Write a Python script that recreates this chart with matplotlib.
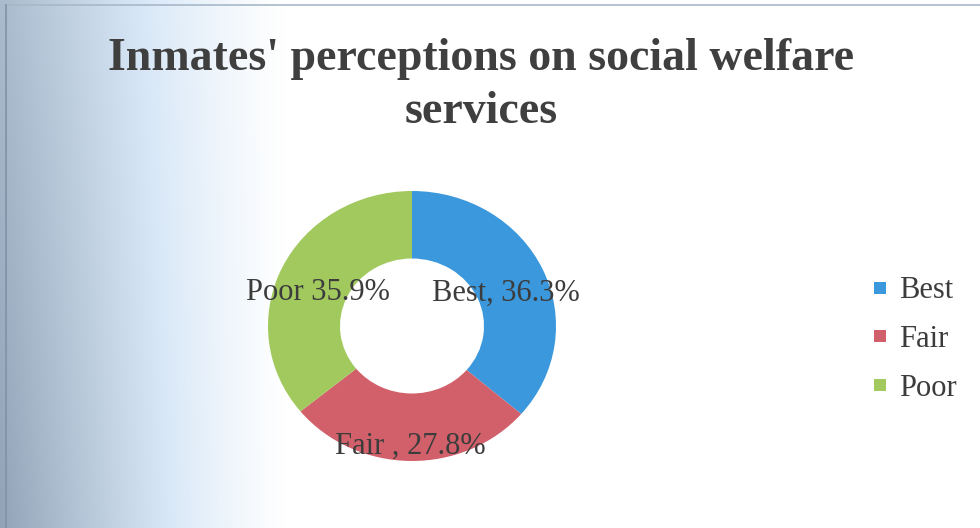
import numpy as np
import matplotlib
matplotlib.use("Agg")
import matplotlib.pyplot as plt
from matplotlib.lines import Line2D

# Survey results
categories = ["Best", "Fair", "Poor"]
shares = [36.3, 27.8, 35.9]
label_texts = ["Best, 36.3%", "Fair , 27.8%", "Poor 35.9%"]
title_text = "Inmates' perceptions on social welfare\nservices"

colors = ["#3b98dc", "#d2606b", "#a2c95e"]
text_color = "#3c3c3c"
serif = ["Liberation Serif", "DejaVu Serif"]

W, H = 980, 528
fig = plt.figure(figsize=(W / 100, H / 100), dpi=100)
fig.patch.set_facecolor("white")

# Paper background: bluish-grey shade along the left edge, heavier at the bottom
bg = fig.add_axes([0, 0, 1, 1], zorder=-5)
bg.set_axis_off()
xs = np.linspace(0, 1, 490)[None, :]
ys = np.linspace(0, 1, 264)[:, None]          # 0 = top, 1 = bottom
fx = np.clip(1 - xs / 0.29, 0, 1) ** 1.15
gy = 0.78 + 0.22 * ys
s = np.clip(fx * gy, 0, 1)[..., None]
white = np.array([1.0, 1.0, 1.0])
tint = np.array([0.85, 0.91, 0.97])
dark = np.array([0.57, 0.64, 0.72])
rgb = np.where(s < 0.35,
               white + (tint - white) * (s / 0.35),
               tint + (dark - tint) * ((s - 0.35) / 0.65))
bg.imshow(rgb, aspect="auto", extent=[0, 1, 0, 1], interpolation="bilinear")
bg.set_xlim(0, 1)
bg.set_ylim(0, 1)
# thin frame lines at the top and left
bg.plot([0.006, 1.0], [0.991, 0.991], color="#a8b8c8", lw=1.2)
bg.plot([0.006, 0.006], [0.0, 0.991], color="#7f92a6", lw=1.2)

# Doughnut
cx, cy, rx, ry = 412, 326, 144, 135
ax = fig.add_axes([(cx - rx) / W, (H - cy - ry) / H, 2 * rx / W, 2 * ry / H])
wedges, _ = ax.pie(shares, colors=colors, startangle=90, counterclock=False,
                   wedgeprops=dict(width=0.5, linewidth=0))
ax.set_aspect("auto")
ax.set_xlim(-1, 1)
ax.set_ylim(-1, 1)

# Data labels placed along each wedge's middle angle
label_radius = [0.72, 1.11, 0.72]
for w, txt, r in zip(wedges, label_texts, label_radius):
    mid = np.deg2rad((w.theta1 + w.theta2) / 2)
    ax.text(r * np.cos(mid), 0.8 * r * np.sin(mid), txt, ha="center",
            va="center", fontsize=22, family=serif, color=text_color)

# Title
fig.text(481 / W, 1 - 38 / H, title_text, ha="center", va="top",
         fontsize=33, fontweight="bold", family=serif, color="#3f3f3f",
         linespacing=1.33)

# Legend
handles = [Line2D([], [], marker="s", linestyle="none", markersize=9,
                  markerfacecolor=c, markeredgewidth=0) for c in colors]
fig.legend(handles, categories, loc="upper left",
           bbox_to_anchor=(856 / W, 1 - 261 / H), frameon=False,
           prop=dict(family=serif, size=22), labelcolor=text_color,
           handlelength=0.6, handletextpad=0.3, labelspacing=0.65,
           borderpad=0)

fig.savefig("out.png", dpi=100)
